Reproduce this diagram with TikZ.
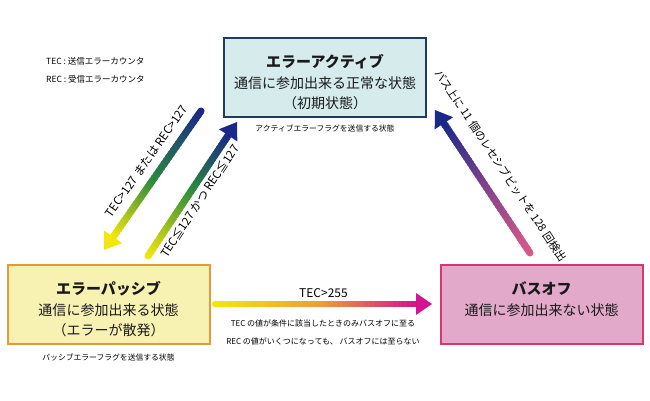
\documentclass[tikz,border=0pt]{standalone}
\usepackage{fontspec}
\setmainfont{Noto Sans CJK JP}
\usetikzlibrary{calc,positioning}

\definecolor{activefill}{HTML}{D5EBEC}
\definecolor{activeline}{HTML}{1F3B5E}
\definecolor{passivefill}{HTML}{F8F2B2}
\definecolor{passiveline}{HTML}{E49A38}
\definecolor{busofffill}{HTML}{E2A9CB}
\definecolor{busoffline}{HTML}{D8366C}
\definecolor{arrnavy}{HTML}{1A288A}
\definecolor{arrgreen}{HTML}{2A8A3C}
\definecolor{arryellow}{HTML}{F3E60C}
\definecolor{arrorange}{HTML}{EE9A38}
\definecolor{arrmagenta}{HTML}{D3148C}
\definecolor{arrpink}{HTML}{DA5A8A}

% shaded arrow: from, to, colour at start, middle, end, shaft width
\newcommand{\gradarrow}[6]{%
  \coordinate (ga-m) at ($(#1)!0.5!(#2)$);
  \coordinate (ga-b) at ($(#2)!16pt!(#1)$);
  \fill[#3] (#1) circle[radius=#6/2];
  \foreach \i in {0,...,19} {
    \pgfmathsetmacro{\p}{5*\i+2.5}
    \draw[line width=#6, #4!\p!#3] ($(#1)!\i/20!(ga-m)$) -- ($(#1)!{(\i+1.5)/20}!(ga-m)$);
  }
  \foreach \i in {0,...,19} {
    \pgfmathsetmacro{\p}{5*\i+2.5}
    \draw[line width=#6, #5!\p!#4] ($(ga-m)!\i/20!(ga-b)$) -- ($(ga-m)!{(\i+1.5)/20}!(ga-b)$);
  }
  \fill[#5] (#2) -- ($(ga-b)!11pt!90:(#2)$) -- ($(ga-b)!11pt!-90:(#2)$) -- cycle;
}
\newcommand{\statetitle}[1]{{\fontsize{15}{19.5}\selectfont\bfseries #1}}
% text of a state box, set from the top
\newcommand{\statetext}[2]{\parbox[c][76pt][t]{200pt}{\centering\rule{0pt}{28pt}\statetitle{#1}\\[2pt]#2}}

\begin{document}
\begin{tikzpicture}[x=1pt, y=-1pt,
  statebox/.style={draw, line width=2pt, minimum width=202pt, minimum height=79pt,
    inner sep=0pt, text=black!90, font=\fontsize{14}{19.5}\selectfont},
  smallnote/.style={font=\fontsize{7.8}{10}\selectfont, inner sep=1pt},
  legendtext/.style={font=\fontsize{8.5}{10}\selectfont, anchor=west, inner sep=1pt},
  condlabel/.style={font=\fontsize{11.5}{14}\selectfont, inner sep=1pt}]

  \useasboundingbox (0,0) rectangle (650,400);

  % states
  \node[statebox, fill=activefill, draw=activeline] (active) at (325,77)
    {\statetext{エラーアクティブ}{通信に参加出来る正常な状態\\（初期状態）}};
  \node[statebox, fill=passivefill, draw=passiveline] (passive) at (108.5,304)
    {\statetext{エラーパッシブ}{通信に参加出来る状態\\（エラーが散発）}};
  \node[statebox, fill=busofffill, draw=busoffline] (busoff) at (541.5,304)
    {\statetext{バスオフ}{通信に参加出来ない状態}};

  \node[smallnote, below=6pt of active] (activenote) {アクティブエラーフラグを送信する状態};
  \node[smallnote, below=8pt of passive] (passivenote) {パッシブエラーフラグを送信する状態};

  % legend
  \node[legendtext] (tec) at (45,61) {TEC : 送信エラーカウンタ};
  \node[legendtext] (rec) at (45,79) {REC : 受信エラーカウンタ};

  % transitions
  \coordinate (a1s) at (201,111);
  \coordinate (a1e) at (104,250);
  \coordinate (a2s) at (148,256);
  \coordinate (a2e) at (237,122);
  \coordinate (a3s) at (530,253);
  \coordinate (a3e) at (435,110);
  \coordinate (a4s) at (215,304);
  \coordinate (a4e) at (432,304);

  \gradarrow{a1s}{a1e}{arrnavy}{arrgreen}{arryellow}{7pt}
  \gradarrow{a2s}{a2e}{arryellow}{arrgreen}{arrnavy}{7pt}
  \gradarrow{a3s}{a3e}{arrpink}{arrpink!50!arrnavy}{arrnavy}{7pt}
  \gradarrow{a4s}{a4e}{arryellow}{arrorange}{arrmagenta}{6.5pt}

  \node[condlabel, rotate=55.1] (lab1) at (146.5,161) {TEC>127 または REC>127};
  \node[condlabel, rotate=56.6] (lab2) at (199.5,201) {TEC≦127 かつ REC≦127};
  \node[condlabel, font=\fontsize{11}{13}\selectfont, rotate=-56.4] (lab3) at (501,165.5)
    {バス上に 11 個のレセシブビットを 128 回検出};
  \path (a4s) -- (a4e) node[condlabel, font=\fontsize{12}{14}\selectfont, midway, above=5pt] (lab4) {TEC>255};

  \node[smallnote, align=center, font=\fontsize{8}{18}\selectfont] (a4note) at (323,332)
    {TEC の値が条件に該当したときのみバスオフに至る\\REC の値がいくつになっても、 バスオフには至らない};

\end{tikzpicture}
\end{document}
